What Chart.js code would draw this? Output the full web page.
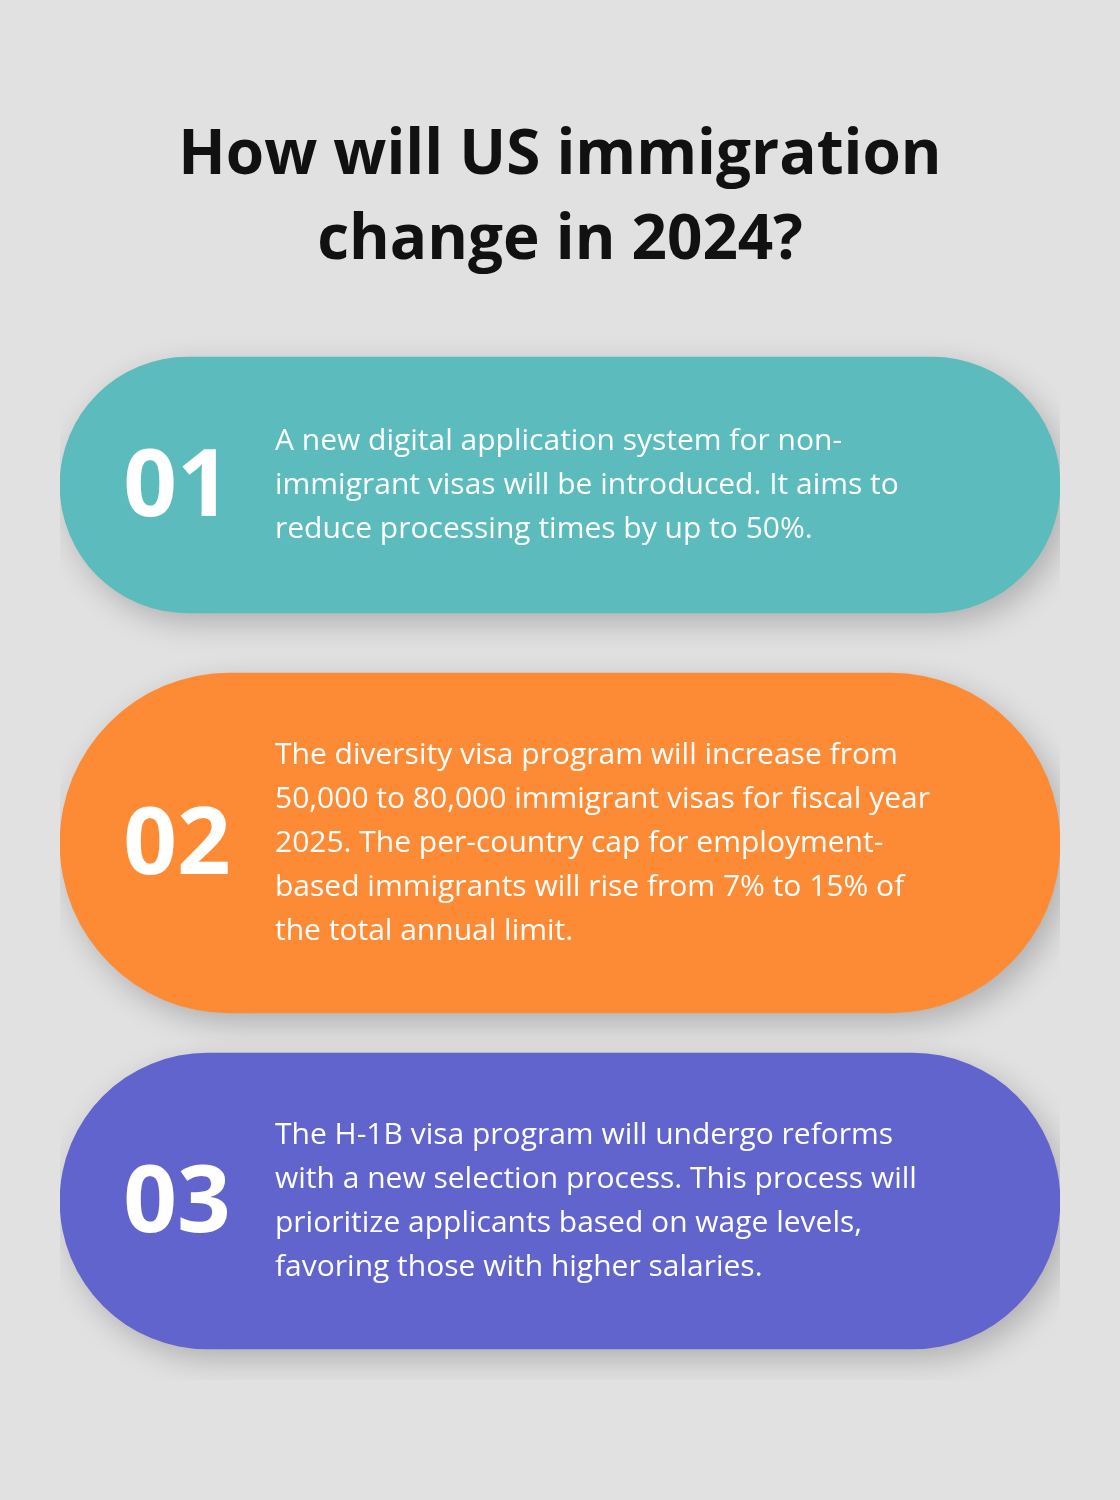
<!DOCTYPE html>
<html><head><meta charset="utf-8">
<script src="https://cdn.jsdelivr.net/npm/chart.js@4"></script>
<style>
html,body{margin:0;padding:0;background:#e0e1e0;width:1120px;height:1500px;overflow:hidden;font-family:"Open Sans",sans-serif}
h1{position:absolute;top:108px;left:0;width:1120px;margin:0;text-align:center;font-size:62px;line-height:85px;font-weight:700;color:#111}
#wrap{position:absolute;left:0;top:0;width:1120px;height:1500px}
</style></head><body>
<h1>How will US immigration<br>change in 2024?</h1>
<div id="wrap"><canvas id="c"></canvas></div>
<script>
const categories = ["01", "02", "03"];
const spans = [[0, 1], [0, 1], [0, 1]];
const colors = ["#5bbbbd", "#fd8a34", "#6064cc"];
const thickness = [256, 340, 296];
const texts = [
  ["A new digital application system for non-", "immigrant visas will be introduced. It aims to", "reduce processing times by up to 50%."],
  ["The diversity visa program will increase from", "50,000 to 80,000 immigrant visas for fiscal year", "2025. The per-country cap for employment-", "based immigrants will rise from 7% to 15% of", "the total annual limit."],
  ["The H-1B visa program will undergo reforms", "with a new selection process. This process will", "prioritize applicants based on wage levels,", "favoring those with higher salaries."]
];
const datasets = categories.map((c, i) => ({
  data: categories.map((_, j) => j === i ? spans[i] : null),
  backgroundColor: colors[i],
  barThickness: thickness[i],
  borderRadius: 200,
  borderSkipped: false,
  grouped: false
}));
const shadow = {
  id: 'shadow',
  beforeDatasetDraw(chart) { const c = chart.ctx; c.save(); c.shadowColor = 'rgba(0,0,0,0.22)'; c.shadowBlur = 30; c.shadowOffsetX = 8; c.shadowOffsetY = 10; },
  afterDatasetDraw(chart) { chart.ctx.restore(); }
};
const labels = {
  id: 'labels',
  afterDatasetsDraw(chart) {
    const c = chart.ctx;
    chart.data.datasets.forEach((ds, i) => {
      const el = chart.getDatasetMeta(i).data[i];
      const y = el.y, x0 = Math.min(el.x, el.base);
      c.save();
      c.fillStyle = '#fff';
      c.textBaseline = 'middle';
      c.textAlign = 'center';
      c.font = 'bold 94px "Open Sans"';
      c.fillText(categories[i], x0 + 117, y + 4);
      c.textAlign = 'left';
      c.font = '30px "Open Sans"';
      const lines = texts[i], lh = 44;
      lines.forEach((t, k) => c.fillText(t, x0 + 215, y + (k - (lines.length - 1) / 2) * lh));
      c.restore();
    });
  }
};
new Chart(document.getElementById('c'), {
  type: 'bar',
  data: { labels: categories, datasets },
  options: {
    indexAxis: 'y', responsive: true, maintainAspectRatio: false, animation: false,
    layout: { padding: { left: 60, right: 60, top: 306, bottom: 120 } },
    scales: { x: { display: false, min: 0, max: 1 }, y: { display: false } },
    plugins: { legend: { display: false }, tooltip: { enabled: false } }
  },
  plugins: [shadow, labels]
});
</script></body></html>
